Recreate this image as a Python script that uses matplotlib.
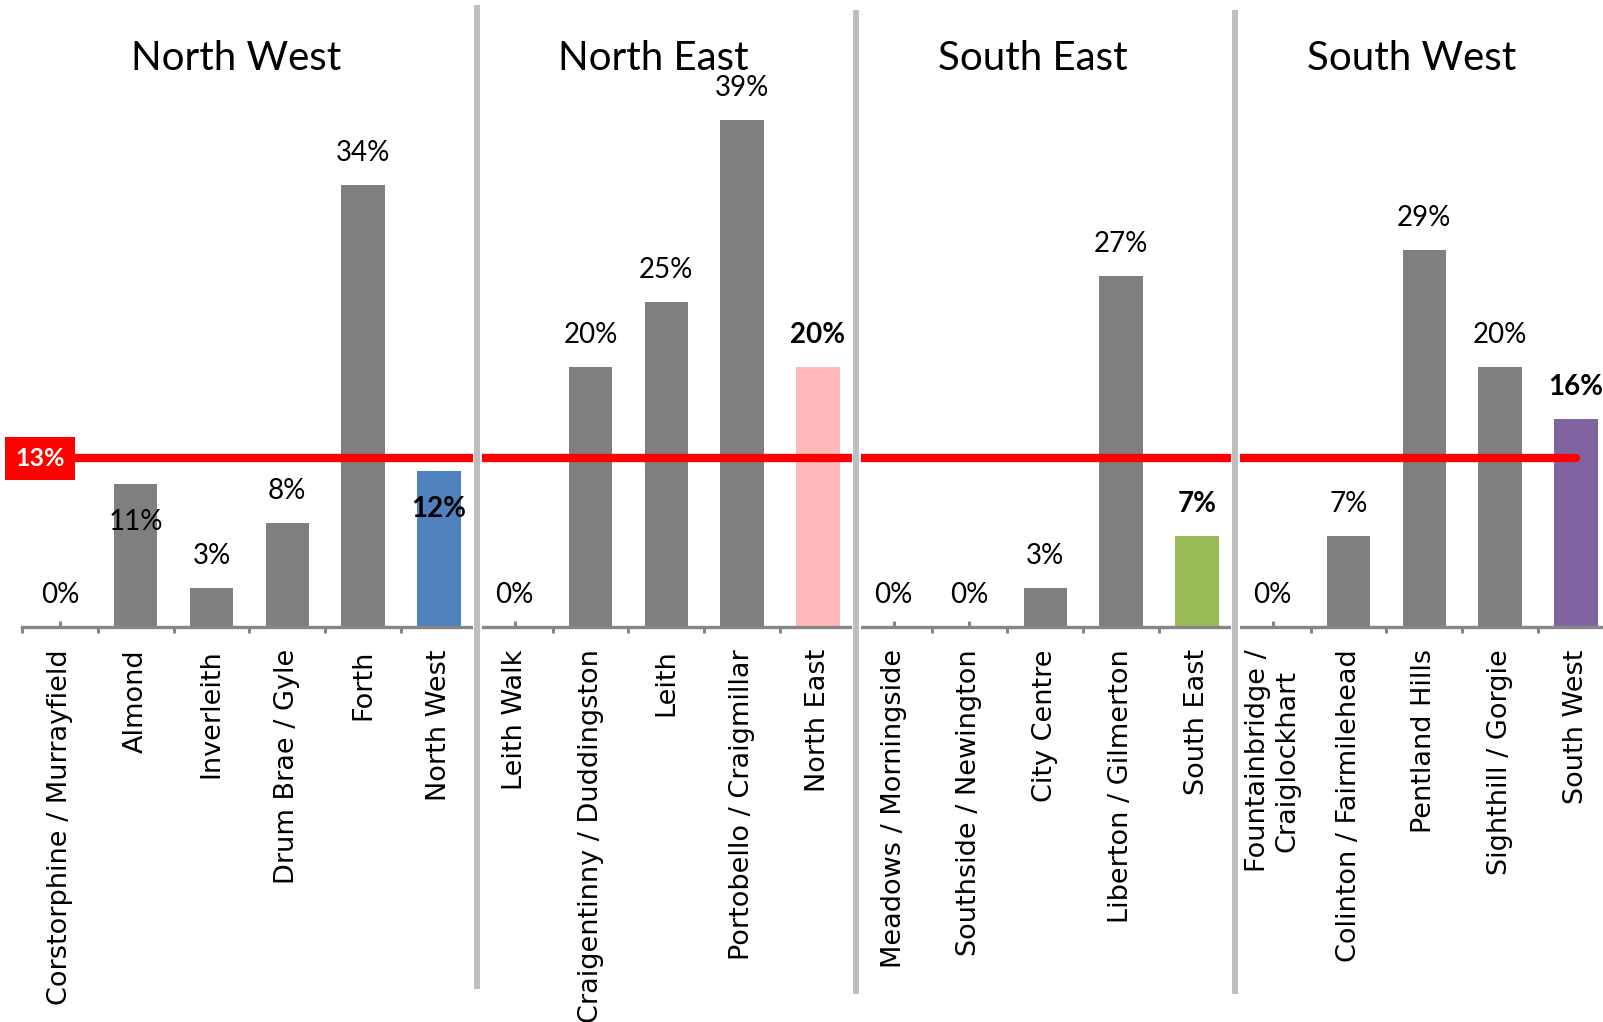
import numpy as np
import matplotlib.pyplot as plt
import matplotlib.transforms as mtransforms
import matplotlib.patheffects as pe

# ward share (%) with the region total at the end of each group
categories = ["Corstorphine / Murrayfield", "Almond", "Inverleith", "Drum Brae / Gyle",
              "Forth", "North West",
              "Leith Walk", "Craigentinny / Duddingston", "Leith", "Portobello / Craigmillar",
              "North East",
              "Meadows / Morningside", "Southside / Newington", "City Centre",
              "Liberton / Gilmerton", "South East",
              "Fountainbridge /\nCraiglockhart", "Colinton / Fairmilehead", "Pentland Hills",
              "Sighthill / Gorgie", "South West"]
values = [0, 11, 3, 8, 34, 12,
          0, 20, 25, 39, 20,
          0, 0, 3, 27, 7,
          0, 7, 29, 20, 16]
regions = ["North West", "North East", "South East", "South West"]
group_sizes = [6, 5, 5, 5]
city_average = 13

region_colours = {"North West": "#4f81bd", "North East": "#ffb9b9",
                  "South East": "#9bbb59", "South West": "#8064a2"}
label_inside = {"Almond", "North West"}

W, H = 1603, 1022
fig = plt.figure(figsize=(W / 100, H / 100), dpi=100)
base_px = 627
px_per_pct = 13.0
ax = fig.add_axes([22 / W, (H - base_px) / H, 21 * 75.8 / W, base_px / H])

x = np.arange(len(categories))
colours = [region_colours.get(c, "#7f7f7f") for c in categories]
bars = ax.bar(x, values, width=0.57, color=colours, zorder=2)

ax.set_xlim(-0.5, len(categories) - 0.5)
ax.set_ylim(0, base_px / px_per_pct)

for side in ["top", "right", "left"]:
    ax.spines[side].set_visible(False)
ax.spines["bottom"].set_color("#868686")
ax.spines["bottom"].set_linewidth(2.4)
ax.spines["bottom"].set_zorder(3)
ax.set_yticks([])

# boundaries get the outward ticks, centres carry the labels
ax.set_xticks(np.arange(-0.5, len(categories), 1))
ax.set_xticklabels([])
ax.tick_params(axis="x", which="major", length=4.5, width=2.2, color="#868686", direction="out")
ax.set_xticks(x, minor=True)
ax.set_xticklabels(categories, minor=True, rotation=90, fontsize=19.5,
                   family="DejaVu Sans", va="top", ha="center", multialignment="center")
ax.tick_params(axis="x", which="minor", length=4.5, width=2.2, color="#868686",
               direction="in", pad=16)

# value labels
for rect, val, name in zip(bars, values, categories):
    is_region = name in region_colours
    dy = -27 if name in label_inside else 23
    ax.annotate(f"{val}%", (rect.get_x() + rect.get_width() / 2, val),
                xytext=(0, dy), textcoords="offset points", ha="center", va="center",
                fontsize=20, family="Lato", color="black",
                fontweight="bold" if is_region else "normal", zorder=5)

# city-wide average line with its tag on the left
ax.plot([-0.3, len(categories) - 1], [city_average, city_average], color="#ff0000",
        lw=6, solid_capstyle="round", zorder=4, clip_on=False)
tr = mtransforms.blended_transform_factory(fig.transFigure, ax.transData)
ax.text(40 / W, city_average, f"{city_average}%", transform=tr, ha="center", va="center",
        fontsize=18, family="Lato", fontweight="bold", color="white", zorder=6,
        bbox=dict(boxstyle="square,pad=0.4", fc="#ff0000", ec="none"))

# region separators and titles
edges = np.cumsum(group_sizes)
starts = np.concatenate([[0], edges[:-1]])
xt = ax.get_xaxis_transform()
for i, e in enumerate(edges[:-1]):
    top = 0.987 if i == 0 else 0.98
    bottom = -0.572 if i == 0 else -0.58
    ax.plot([e - 0.5, e - 0.5], [bottom, top], transform=xt, color="#bfbfbf", lw=4.3,
            clip_on=False, zorder=7,
            path_effects=[pe.Stroke(linewidth=6.5, foreground="white"), pe.Normal()])
title_y = (base_px - 70) / base_px
for name, s, e in zip(regions, starts, edges):
    ax.text((s + e - 1) / 2 - 0.17, title_y, name, transform=xt, ha="center", va="baseline",
            fontsize=29, family="Lato", color="black")

fig.savefig("out.png", dpi=100, facecolor="white")
